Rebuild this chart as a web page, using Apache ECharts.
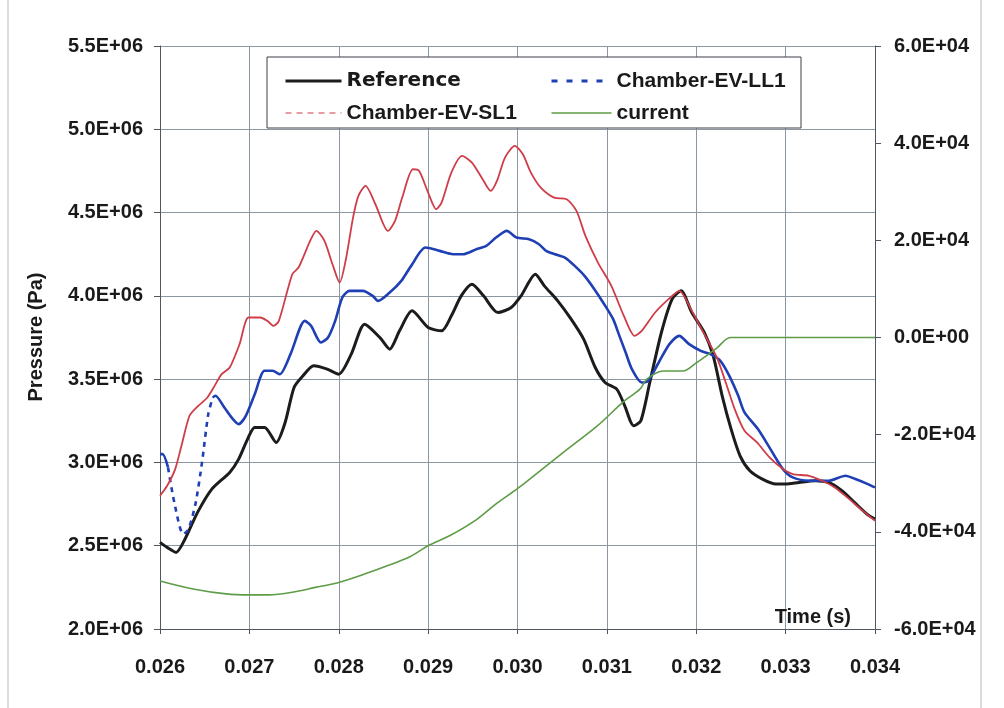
<!DOCTYPE html>
<html>
<head>
<meta charset="utf-8">
<title>Pressure and current vs time</title>
<script src="https://cdn.jsdelivr.net/npm/echarts@6/dist/echarts.min.js"></script>
<style>
  html, body { margin: 0; padding: 0; background: #ffffff; }
  #chart { width: 1004px; height: 708px; }
</style>
</head>
<body>
<div id="chart"></div>
<script>
// ---- Data -------------------------------------------------------------
// Time axis (s) and tick settings
const xTicks = { min: 0.026, max: 0.034, step: 0.001 };
const pTicks = { min: 2.0e6, max: 5.5e6, step: 0.5e6 };
const iTicks = { min: -6.0e4, max: 6.0e4, step: 2.0e4 };

// Reference pressure (Pa)
const refTime = [0.02600, 0.02608, 0.02618, 0.02628, 0.02642, 0.02658, 0.02678, 0.02688, 0.02698, 0.02706,
  0.02717, 0.02730, 0.02740, 0.02750, 0.02760, 0.02772, 0.02787, 0.02800, 0.02814, 0.02829,
  0.02846, 0.02857, 0.02868, 0.02882, 0.02900, 0.02915, 0.02926, 0.02937, 0.02949, 0.02962,
  0.02978, 0.02993, 0.03004, 0.03020, 0.03030, 0.03045, 0.03060, 0.03074, 0.03087, 0.03098,
  0.03111, 0.03120, 0.03130, 0.03138, 0.03148, 0.03161, 0.03173, 0.03183, 0.03195, 0.03209,
  0.03219, 0.03229, 0.03239, 0.03249, 0.03260, 0.03274, 0.03289, 0.03300, 0.03315, 0.03333,
  0.03348, 0.03363, 0.03377, 0.03391, 0.03400];
const refPressure = [2.52e6, 2.49e6, 2.46e6, 2.54e6, 2.70e6, 2.84e6, 2.94e6, 3.02e6, 3.14e6, 3.21e6,
  3.21e6, 3.12e6, 3.24e6, 3.45e6, 3.52e6, 3.58e6, 3.56e6, 3.53e6, 3.65e6, 3.83e6,
  3.75e6, 3.68e6, 3.79e6, 3.91e6, 3.81e6, 3.79e6, 3.88e6, 4.00e6, 4.07e6, 4.00e6,
  3.90e6, 3.93e6, 4.00e6, 4.13e6, 4.06e6, 3.97e6, 3.86e6, 3.74e6, 3.57e6, 3.48e6,
  3.44e6, 3.34e6, 3.22e6, 3.25e6, 3.48e6, 3.78e6, 3.98e6, 4.03e6, 3.90e6, 3.78e6,
  3.64e6, 3.40e6, 3.20e6, 3.04e6, 2.95e6, 2.90e6, 2.87e6, 2.87e6, 2.88e6, 2.89e6,
  2.88e6, 2.83e6, 2.76e6, 2.69e6, 2.66e6];

// Chamber-EV-LL1 pressure (Pa): solid start, sparse jump, solid remainder
const ll1TimeA = [0.02600, 0.02603, 0.02609];
const ll1PressureA = [3.05e6, 3.05e6, 2.97e6];
const ll1TimeJump = [0.02609, 0.02616, 0.02626, 0.02632, 0.02640, 0.02647, 0.02654, 0.02659];
const ll1PressureJump = [2.97e6, 2.76e6, 2.57e6, 2.60e6, 2.76e6, 3.00e6, 3.29e6, 3.39e6];
const ll1TimeB = [0.02659, 0.02662, 0.02672, 0.02680, 0.02688, 0.02696, 0.02706, 0.02717, 0.02726, 0.02734,
  0.02746, 0.02762, 0.02769, 0.02780, 0.02788, 0.02796, 0.02804, 0.02812, 0.02827, 0.02838,
  0.02844, 0.02857, 0.02870, 0.02881, 0.02897, 0.02913, 0.02928, 0.02939, 0.02954, 0.02965,
  0.02976, 0.02988, 0.02999, 0.03013, 0.03024, 0.03032, 0.03042, 0.03053, 0.03064, 0.03075,
  0.03086, 0.03097, 0.03107, 0.03114, 0.03121, 0.03128, 0.03139, 0.03146, 0.03158, 0.03170,
  0.03181, 0.03192, 0.03205, 0.03216, 0.03227, 0.03237, 0.03247, 0.03254, 0.03269, 0.03283,
  0.03297, 0.03308, 0.03326, 0.03348, 0.03367, 0.03378, 0.03392, 0.03400];
const ll1PressureB = [3.39e6, 3.40e6, 3.33e6, 3.27e6, 3.23e6, 3.28e6, 3.41e6, 3.55e6, 3.55e6, 3.53e6,
  3.65e6, 3.85e6, 3.82e6, 3.72e6, 3.75e6, 3.85e6, 3.99e6, 4.03e6, 4.03e6, 4.00e6,
  3.97e6, 4.02e6, 4.09e6, 4.18e6, 4.29e6, 4.27e6, 4.25e6, 4.25e6, 4.28e6, 4.30e6,
  4.35e6, 4.39e6, 4.35e6, 4.34e6, 4.31e6, 4.27e6, 4.25e6, 4.23e6, 4.18e6, 4.12e6,
  4.04e6, 3.95e6, 3.86e6, 3.76e6, 3.66e6, 3.56e6, 3.48e6, 3.49e6, 3.60e6, 3.71e6,
  3.76e6, 3.71e6, 3.67e6, 3.65e6, 3.61e6, 3.52e6, 3.40e6, 3.30e6, 3.20e6, 3.08e6,
  2.96e6, 2.91e6, 2.89e6, 2.89e6, 2.92e6, 2.90e6, 2.87e6, 2.85e6];

// Chamber-EV-SL1 pressure (Pa)
const sl1Time = [0.02600, 0.02608, 0.02617, 0.02624, 0.02633, 0.02641, 0.02653, 0.02660, 0.02669, 0.02678,
  0.02689, 0.02699, 0.02712, 0.02720, 0.02727, 0.02733, 0.02748, 0.02755, 0.02768, 0.02775,
  0.02784, 0.02793, 0.02801, 0.02808, 0.02816, 0.02822, 0.02830, 0.02841, 0.02855, 0.02863,
  0.02871, 0.02883, 0.02890, 0.02900, 0.02909, 0.02915, 0.02926, 0.02938, 0.02949, 0.02961,
  0.02970, 0.02977, 0.02986, 0.02997, 0.03006, 0.03015, 0.03026, 0.03041, 0.03055, 0.03066,
  0.03076, 0.03090, 0.03105, 0.03119, 0.03131, 0.03139, 0.03154, 0.03169, 0.03181, 0.03195,
  0.03209, 0.03223, 0.03233, 0.03243, 0.03254, 0.03268, 0.03282, 0.03297, 0.03308, 0.03326,
  0.03341, 0.03355, 0.03369, 0.03384, 0.03400];
const sl1Pressure = [2.80e6, 2.86e6, 2.96e6, 3.10e6, 3.28e6, 3.33e6, 3.39e6, 3.45e6, 3.53e6, 3.57e6,
  3.71e6, 3.87e6, 3.87e6, 3.85e6, 3.82e6, 3.85e6, 4.13e6, 4.17e6, 4.33e6, 4.39e6,
  4.33e6, 4.19e6, 4.08e6, 4.22e6, 4.47e6, 4.60e6, 4.66e6, 4.55e6, 4.39e6, 4.45e6,
  4.59e6, 4.76e6, 4.75e6, 4.62e6, 4.52e6, 4.56e6, 4.74e6, 4.84e6, 4.80e6, 4.70e6,
  4.63e6, 4.69e6, 4.83e6, 4.90e6, 4.85e6, 4.74e6, 4.65e6, 4.59e6, 4.58e6, 4.51e6,
  4.36e6, 4.20e6, 4.06e6, 3.88e6, 3.76e6, 3.79e6, 3.90e6, 3.98e6, 4.03e6, 3.91e6,
  3.77e6, 3.63e6, 3.48e6, 3.32e6, 3.19e6, 3.12e6, 3.03e6, 2.96e6, 2.93e6, 2.92e6,
  2.89e6, 2.85e6, 2.79e6, 2.72e6, 2.65e6];

// Current (right axis)
const curTime = [0.02600, 0.02637, 0.02674, 0.02700, 0.02722, 0.02748, 0.02774, 0.02800, 0.02828, 0.02858,
  0.02880, 0.02900, 0.02925, 0.02955, 0.02977, 0.03000, 0.03014, 0.03052, 0.03090, 0.03118,
  0.03137, 0.03145, 0.03163, 0.03185, 0.03200, 0.03223, 0.03238, 0.03300, 0.03400];
const curValue = [-50100, -51760, -52770, -52970, -52970, -52430, -51430, -50420, -48750, -46740,
  -45070, -42860, -40710, -37370, -34100, -31100, -29100, -23550, -18090, -13310,
  -10640, -8530, -6900, -6900, -5220, -2170, 0, 0, 0];

// ---- Helpers ----------------------------------------------------------
function pairs(ts, vs) { return ts.map((t, i) => [t, vs[i]]); }

function sci(v) {
  if (Math.abs(v) < 1e-9) return '0.0E+00';
  const e = Math.floor(Math.log10(Math.abs(v)) + 1e-9);
  const m = v / Math.pow(10, e);
  return m.toFixed(1) + 'E+' + String(e).padStart(2, '0');
}

const FONT = '"Liberation Sans", Arial, sans-serif';
const GRID_COLOR = '#8c97a4';
const AXIS_COLOR = '#4d5661';
const C_REF = '#1c1c1c', C_LL1 = '#1f3fb4', C_SL1 = '#cf3d48', C_CUR = '#5e9c47';

const labelText = { fontFamily: FONT, fontWeight: 'bold', fontSize: 20, color: '#1a1a1a' };
const legendText = { fontFamily: FONT, fontWeight: 'bold', fontSize: 21, color: '#1a1a1a', lineHeight: 22 };

// ---- Chart ------------------------------------------------------------
const chart = echarts.init(document.getElementById('chart'), null, { renderer: 'canvas' });

chart.setOption({
  backgroundColor: '#ffffff',
  animation: false,
  grid: { left: 160, right: 129, top: 46, bottom: 79 },
  graphic: [
    { type: 'line', shape: { x1: 8, y1: 0, x2: 8, y2: 708 }, style: { stroke: '#b4b8bd', lineWidth: 1 } },
    { type: 'line', shape: { x1: 981, y1: 0, x2: 981, y2: 708 }, style: { stroke: '#b4b8bd', lineWidth: 1 } },
    {
      type: 'rect', z: 3,
      shape: { x: 267, y: 57, width: 534, height: 71 },
      style: { fill: '#ffffff', stroke: '#3a3f45', lineWidth: 1 }
    },
    {
      type: 'text', z: 5, x: 36, y: 337, rotation: Math.PI / 2,
      style: {
        text: 'Pressure (Pa)', fontFamily: FONT, fontWeight: 'bold', fontSize: 20,
        fill: '#1a1a1a', align: 'center', verticalAlign: 'middle'
      }
    }
  ],
  legend: [
    {
      orient: 'vertical', left: 279, top: 65, itemWidth: 56, itemHeight: 14, itemGap: 10,
      z: 6, selectedMode: false,
      data: [
        { name: 'Reference', itemStyle: { opacity: 0 }, lineStyle: { color: C_REF, width: 3, type: 'solid' },
          textStyle: Object.assign({}, legendText, { fontFamily: '"DejaVu Sans", sans-serif', fontSize: 20 }) },
        { name: 'Chamber-EV-SL1', itemStyle: { opacity: 0 }, lineStyle: { color: '#e07a80', width: 1.5, type: [6, 5] },
          textStyle: legendText }
      ]
    },
    {
      orient: 'vertical', left: 545, top: 65, itemWidth: 60, itemHeight: 14, itemGap: 10,
      z: 6, selectedMode: false,
      data: [
        { name: 'Chamber-EV-LL1', itemStyle: { opacity: 0 }, lineStyle: { color: C_LL1, width: 3, type: [6, 9] },
          textStyle: legendText },
        { name: 'current', itemStyle: { opacity: 0 }, lineStyle: { color: C_CUR, width: 1.5, type: 'solid' },
          textStyle: legendText }
      ]
    }
  ],
  xAxis: {
    type: 'value', min: xTicks.min, max: xTicks.max, interval: xTicks.step,
    name: 'Time (s)', nameLocation: 'end', nameGap: -24,
    nameTextStyle: Object.assign({}, labelText, { align: 'right', verticalAlign: 'bottom', padding: [0, 0, 2, 0] }),
    axisLine: { show: true, onZero: false, lineStyle: { color: AXIS_COLOR, width: 1 } },
    axisTick: { show: true, length: 5, lineStyle: { color: AXIS_COLOR } },
    axisLabel: Object.assign({}, labelText, { margin: 28, formatter: v => v.toFixed(3) }),
    splitLine: { show: true, lineStyle: { color: GRID_COLOR, width: 1 } }
  },
  yAxis: [
    {
      type: 'value', position: 'left', min: pTicks.min, max: pTicks.max, interval: pTicks.step,
      axisLine: { show: true, onZero: false, lineStyle: { color: AXIS_COLOR, width: 1 } },
      axisTick: { show: true, length: 6, lineStyle: { color: AXIS_COLOR } },
      axisLabel: Object.assign({}, labelText, { margin: 17, formatter: sci }),
      splitLine: { show: true, lineStyle: { color: GRID_COLOR, width: 1 } }
    },
    {
      type: 'value', position: 'right', min: iTicks.min, max: iTicks.max, interval: iTicks.step,
      axisLine: { show: true, onZero: false, lineStyle: { color: AXIS_COLOR, width: 1 } },
      axisTick: { show: true, length: 6, lineStyle: { color: AXIS_COLOR } },
      axisLabel: Object.assign({}, labelText, { margin: 19, formatter: sci }),
      splitLine: { show: false }
    }
  ],
  series: [
    {
      name: 'Reference', type: 'line', yAxisIndex: 0, symbol: 'none', smooth: 0.25,
      lineStyle: { color: C_REF, width: 3 }, itemStyle: { color: C_REF },
      data: pairs(refTime, refPressure)
    },
    {
      name: 'Chamber-EV-LL1', type: 'line', yAxisIndex: 0, symbol: 'none', smooth: 0.25,
      lineStyle: { color: C_LL1, width: 2.6, type: [5, 5] }, itemStyle: { color: C_LL1 },
      data: pairs(ll1TimeJump, ll1PressureJump)
    },
    {
      name: 'Chamber-EV-LL1', type: 'line', yAxisIndex: 0, symbol: 'none', smooth: 0.25,
      lineStyle: { color: C_LL1, width: 2.6 }, itemStyle: { color: C_LL1 },
      data: pairs(ll1TimeA, ll1PressureA).concat([[ll1TimeA[ll1TimeA.length - 1], null]], pairs(ll1TimeB, ll1PressureB))
    },
    {
      name: 'Chamber-EV-SL1', type: 'line', yAxisIndex: 0, symbol: 'none', smooth: 0.25,
      lineStyle: { color: C_SL1, width: 1.8 }, itemStyle: { color: C_SL1 },
      data: pairs(sl1Time, sl1Pressure)
    },
    {
      name: 'current', type: 'line', yAxisIndex: 1, symbol: 'none', smooth: 0.3,
      lineStyle: { color: C_CUR, width: 1.6 }, itemStyle: { color: C_CUR },
      data: pairs(curTime, curValue)
    }
  ]
});
</script>
</body>
</html>
